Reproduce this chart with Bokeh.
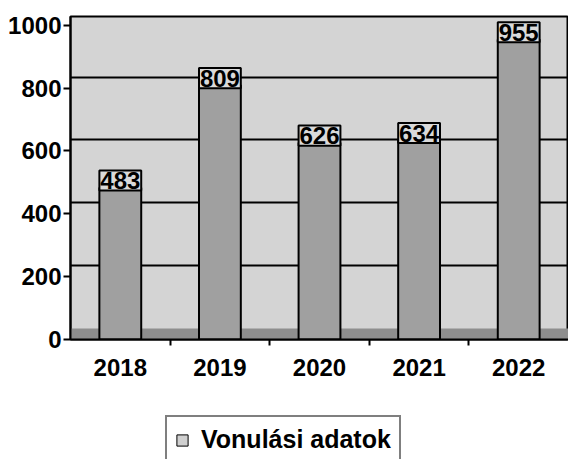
from bokeh.plotting import figure
from bokeh.layouts import column
from bokeh.models import Range1d, FixedTicker, ColumnDataSource, Legend, LegendItem
from bokeh.core.properties import value
from bokeh.embed import file_html
from bokeh.resources import INLINE

# ---- data ----
years = ["2018", "2019", "2020", "2021", "2022"]
values = [483, 809, 626, 634, 955]
y_ticks = [0, 200, 400, 600, 800, 1000]
series_name = "Vonulási adatok"

# ---- style constants ----
FONT = "Liberation Sans"
FLOOR = 35          # depth of the 3D floor / back-wall offset (value units)
Y_MAX = 1028
BAR_W = 0.42
LBL_BELOW = 9       # label box starts this far below the bar top (value units)
LBL_H = 64          # label box height (value units)
BAR_FILL = "#a0a0a0"

xs = [i + 0.5 for i in range(len(years))]
src = ColumnDataSource(dict(
    x=xs, top=values, label=[str(v) for v in values],
    lb=[v - LBL_BELOW for v in values],
    lt=[v - LBL_BELOW + LBL_H for v in values],
    ly=[v - LBL_BELOW + LBL_H / 2 for v in values],
))

p = figure(width=568, height=410, output_backend="svg", toolbar_location=None,
           x_range=Range1d(0, len(years)), y_range=Range1d(0, Y_MAX),
           min_border_left=70, min_border_right=0, min_border_top=16, min_border_bottom=71)

p.background_fill_color = "#d4d4d4"
p.border_fill_color = "white"
p.outline_line_color = "black"
p.outline_line_width = 2
p.xgrid.visible = False
p.ygrid.visible = False

# floor strip of the 3D chart
p.quad(left=[0], right=[len(years)], bottom=[0], top=[FLOOR],
       fill_color="#8e8e8e", line_color=None)

# back-wall gridlines (offset by the 3D depth)
p.hspan(y=[t + FLOOR for t in y_ticks[1:]], line_color="black", line_width=2)

bars = p.vbar(x="x", top="top", width=BAR_W, source=src,
              fill_color=BAR_FILL, line_color="black", line_width=2)

# value label boxes on top of the bars
p.vbar(x="x", bottom="lb", top="lt", width=BAR_W, source=src,
       fill_color="#dadada", line_color="black", line_width=2)
p.text(x="x", y="ly", text="label", source=src,
       text_align="center", text_baseline="middle",
       text_font=value(FONT), text_font_style="bold", text_font_size="24px",
       text_color="black")

# y axis
ya = p.yaxis[0]
ya.ticker = FixedTicker(ticks=y_ticks, minor_ticks=[])
ya.major_label_text_font = FONT
ya.major_label_text_font_style = "bold"
ya.major_label_text_font_size = "24px"
ya.major_label_text_color = "black"
ya.axis_line_color = "black"
ya.axis_line_width = 2
ya.major_tick_line_color = "black"
ya.major_tick_line_width = 2
ya.major_tick_out = 7
ya.major_tick_in = 0
ya.minor_tick_line_color = None
ya.major_label_standoff = 2

# x axis
xa = p.xaxis[0]
xa.ticker = FixedTicker(ticks=xs, minor_ticks=list(range(1, len(years))))
xa.major_label_overrides = {x: y for x, y in zip(xs, years)}
xa.major_label_text_font = FONT
xa.major_label_text_font_style = "bold"
xa.major_label_text_font_size = "24px"
xa.major_label_text_color = "black"
xa.axis_line_color = "black"
xa.axis_line_width = 2
xa.major_tick_line_color = None
xa.major_tick_out = 0
xa.major_tick_in = 0
xa.minor_tick_line_color = "black"
xa.minor_tick_line_width = 2
xa.minor_tick_out = 6
xa.minor_tick_in = 0
xa.major_label_standoff = 13

# ---- legend strip (separate figure below the chart; its frame is aligned with the chart's) ----
lg = figure(width=568, height=49, output_backend="svg", toolbar_location=None,
            x_axis_location=None, y_axis_location=None,
            x_range=Range1d(0, 1), y_range=Range1d(0, 1),
            min_border=0, min_border_left=0, min_border_right=0,
            min_border_top=0, min_border_bottom=0)
lg.grid.visible = False
lg.outline_line_color = None
lg.background_fill_color = "white"
lg.border_fill_color = "white"
nan = float("nan")
swatch = lg.vbar(x=[nan], top=[nan], width=BAR_W,
                 fill_color="#d0d0d0", line_color="black", line_width=1)

legend = Legend(items=[LegendItem(label=series_name, renderers=[swatch])],
                location=(95, -5), orientation="horizontal",
                border_line_color="black", border_line_width=2,
                background_fill_color="white", background_fill_alpha=1.0,
                label_text_font=FONT, label_text_font_style="bold",
                label_text_font_size="25px", label_text_color="black",
                glyph_width=14, glyph_height=14, padding=8, margin=0,
                label_standoff=12)
lg.add_layout(legend)

layout = column(p, lg, spacing=0)
open("out.html", "w").write(file_html(layout, INLINE))
